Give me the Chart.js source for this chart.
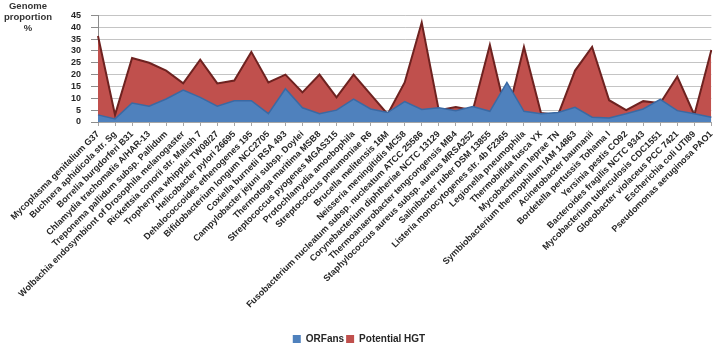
<!DOCTYPE html>
<html lang="en">
<head>
  <meta charset="UTF-8" />
  <title>Genome proportion: ORFans & Potential HGT</title>
  <script src="https://cdn.jsdelivr.net/npm/chart.js"></script>
  <style>
    body { margin: 0; padding: 0; background: #fff; font-family: "Liberation Sans", Arial, sans-serif; }
    #wrap { position: relative; width: 722px; height: 347px; }
    #ytitle { position: absolute; left: 0; top: 0; width: 56px; text-align: center;
              font: bold 9.5px "Liberation Sans", Arial, sans-serif; line-height: 11px; color: #333; }
  </style>
</head>
<body>

<div id="wrap">
  <canvas id="chart" width="722" height="347"></canvas>
  <div id="ytitle">Genome<br>proportion<br>%</div>
</div>

<script>
const organisms = [
  'Mycoplasma genitalium G37', 'Buchnera aphidicola str. Sg', 'Borrelia burgdorferi B31',
  'Chlamydia trachomatis A/HAR-13', 'Treponema pallidum subsp. Pallidum',
  'Wolbachia endosymbiont of Drosophila melanogaster', 'Rickettsia conorii str. Malish 7',
  'Tropheryma whipplei TW08/27', 'Helicobacter pylori 26695', 'Dehalococcoides ethenogenes 195',
  'Bifidobacterium longum NCC2705', 'Coxiella burnetii RSA 493', 'Campylobacter jejuni subsp. Doylei',
  'Thermotoga maritima MSB8', 'Streptococcus pyogenes MGAS315', 'Protochlamydia amoebophila',
  'Streptococcus pneumoniae R6', 'Brucella melitensis 16M', 'Neisseria meningitidis MC58',
  'Fusobacterium nucleatum subsp. nucleatum ATCC 25586', 'Corynebacterium diphtheriae NCTC 13129',
  'Thermoanaerobacter tengcongensis MB4', 'Staphylococcus aureus subsp. aureus MRSA252',
  'Salinibacter ruber DSM 13855', 'Listeria monocytogenes str. 4b F2365', 'Legionella pneumophila',
  'Thermobifida fusca YX', 'Mycobacterium leprae TN', 'Symbiobacterium thermophilum IAM 14863',
  'Acinetobacter baumanii', 'Bordetella pertussis Tohama I', 'Yersinia pestis CO92',
  'Bacteroides fragilis NCTC 9343', 'Mycobacterium tuberculosis CDC1551',
  'Gloeobacter violaceus PCC 7421', 'Escherichia coli UTI89', 'Pseudomonas aeruginosa PAO1'
];

// % of genome
const orfans = [3, 1.3, 8, 6.7, 9.7, 13.5, 10.4, 6.7, 9, 9, 3.5, 14, 6, 3.5, 5, 9.7, 5.5, 4, 8.6,
  5.3, 6, 4.8, 6.5, 4.5, 16.7, 4.5, 3.5, 4, 6.2, 2, 1.7, 3.5, 5.5, 9.6, 4.8, 3.5, 2];
const hgt = [36.3, 3, 27, 25, 21.7, 16.3, 26.3, 16.3, 17.5, 29.6, 16.7, 20, 12.5, 20, 10.4, 20, 11.7,
  3.3, 16.7, 42, 5, 6.3, 5, 32.5, 2, 31.7, 3.8, 2.9, 21.7, 31.7, 9.2, 5, 8.8, 7.9, 19.2, 3, 30.4];

const yTicks = [0, 5, 10, 15, 20, 25, 30, 35, 40, 45];

const boldFont = (size) => ({ family: '"Liberation Sans", Arial, sans-serif', size: size, weight: 'bold' });

new Chart(document.getElementById('chart'), {
  type: 'line',
  data: {
    labels: organisms,
    datasets: [
      { label: 'ORFans', data: orfans, fill: 'origin', backgroundColor: '#4f81bd',
        borderColor: '#3a69a3', borderWidth: 1.5, pointRadius: 0, tension: 0 },
      { label: 'Potential HGT', data: hgt, fill: 'origin', backgroundColor: '#c0504d',
        borderColor: '#6e2220', borderWidth: 2, pointRadius: 0, tension: 0 }
    ]
  },
  options: {
    responsive: false,
    animation: false,
    layout: { padding: { top: 12, right: 4, left: 0, bottom: -7 } },
    plugins: {
      tooltip: { enabled: false },
      legend: {
        position: 'bottom',
        labels: {
          font: boldFont(10), color: '#262626', boxWidth: 8, boxHeight: 8, padding: 2,
          generateLabels: (chart) => Chart.defaults.plugins.legend.labels.generateLabels(chart)
            .map(l => Object.assign(l, { strokeStyle: l.fillStyle, lineWidth: 0 }))
        }
      }
    },
    scales: {
      x: {
        offset: false,
        afterFit: (s) => { s.height = 210; },
        grid: { drawOnChartArea: false, tickLength: 4, color: '#a6a6a6' },
        border: { color: '#a6a6a6' },
        ticks: { autoSkip: false, minRotation: 45, maxRotation: 45, font: boldFont(9), color: '#262626', padding: 3 }
      },
      y: {
        min: 0, max: 45,
        afterFit: (s) => { s.width = 98; },
        afterBuildTicks: (s) => { s.ticks = yTicks.map(v => ({ value: v })); },
        grid: { color: '#c4c4c4', tickLength: 7, tickColor: '#8c8c8c' },
        border: { color: '#8c8c8c' },
        ticks: { autoSkip: false, font: boldFont(9), color: '#262626', padding: 10 }
      }
    }
  }
});
</script>
</body>
</html>
